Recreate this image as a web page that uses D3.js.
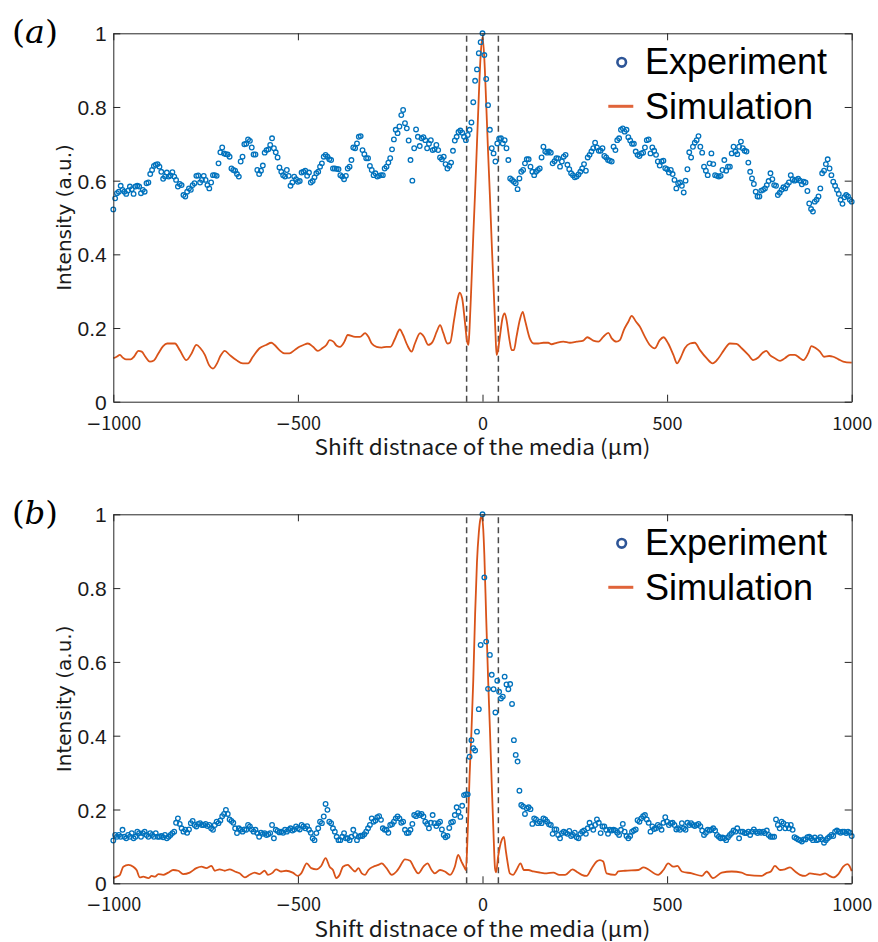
<!DOCTYPE html>
<html>
<head>
<meta charset="utf-8">
<script src="https://cdn.jsdelivr.net/npm/d3@7"></script>
<style>
  html, body { margin: 0; padding: 0; background: #ffffff; }
  svg { display: block; }
</style>
</head>
<body>
<svg id="chart" width="878" height="942"></svg>
<script>
// ---------------- DATA ----------------
const xStep = 5;           // µm between experimental samples, starting at -1000
const xStart = -1000;

// Panel (a) experiment (normalised intensity)
const expA = [
0.522,0.552,0.566,0.570,0.586,0.575,0.570,0.564,0.573,0.584,
0.577,0.564,0.584,0.586,0.584,0.566,0.575,0.570,0.593,0.595,
0.618,0.629,0.640,0.643,0.645,0.638,0.624,0.605,0.611,0.622,
0.611,0.614,0.623,0.611,0.602,0.584,0.591,0.588,0.561,0.557,
0.570,0.579,0.575,0.588,0.593,0.613,0.614,0.595,0.602,0.613,
0.602,0.588,0.579,0.595,0.615,0.615,0.613,0.647,0.677,0.690,
0.674,0.672,0.671,0.665,0.633,0.629,0.627,0.618,0.611,0.652,
0.665,0.699,0.700,0.712,0.708,0.690,0.671,0.671,0.629,0.618,
0.627,0.641,0.676,0.683,0.685,0.697,0.715,0.688,0.677,0.663,
0.636,0.624,0.615,0.611,0.629,0.613,0.586,0.595,0.611,0.604,
0.597,0.599,0.622,0.624,0.627,0.613,0.622,0.595,0.599,0.609,
0.620,0.624,0.638,0.647,0.665,0.670,0.665,0.658,0.656,0.633,
0.633,0.632,0.631,0.615,0.611,0.604,0.613,0.633,0.638,0.656,
0.690,0.688,0.701,0.719,
0.721,0.683,0.672,0.661,0.661,0.640,0.629,0.615,0.620,0.611,
0.613,0.615,0.615,0.633,0.638,0.649,0.661,0.685,0.712,0.738,
0.729,0.747,0.778,0.792,0.756,0.742,0.709,0.656,0.600,0.688,
0.739,0.719,0.694,0.715,0.718,0.710,0.688,0.700,0.710,0.683,
0.685,0.697,0.683,0.663,0.658,0.665,0.645,0.633,0.640,0.649,
0.681,0.709,0.719,0.732,0.736,0.730,0.719,0.710,0.724,0.738,
0.758,0.813,0.871,0.902,0.946,0.976,1.000,
0.941,0.876,0.805,0.738,0.688,0.674,0.652,0.701,0.714,0.715,
0.701,0.710,0.688,0.656,0.606,0.602,0.597,0.593,0.577,0.606,
0.624,0.629,0.647,0.658,0.658,0.638,0.624,0.615,0.624,0.629,
0.633,0.663,0.692,0.679,0.676,0.679,0.676,0.647,0.653,0.661,
0.660,0.638,0.652,0.665,0.670,0.643,0.631,0.620,0.615,0.609,
0.611,0.617,0.624,0.633,0.645,0.627,0.663,0.670,0.679,0.688,
0.703,0.690,0.681,0.681,0.688,0.667,0.663,0.656,
0.654,0.652,0.692,0.683,0.710,0.715,0.738,0.742,0.733,0.738,
0.718,0.709,0.700,0.700,0.679,0.670,0.667,0.674,0.676,0.690,
0.710,0.712,0.674,0.690,0.681,0.670,0.652,0.641,0.652,0.654,
0.634,0.631,0.622,0.629,0.618,0.602,0.579,0.593,0.595,0.586,
0.568,0.600,0.631,0.677,0.663,0.692,0.703,0.710,0.721,0.692,
0.676,0.638,0.627,0.615,0.647,0.674,0.645,0.615,0.613,0.611,
0.613,0.629,0.656,0.627,0.638,0.638,0.674,0.692,0.679,0.672,
0.692,0.706,0.688,0.681,0.679,0.649,0.624,0.606,0.591,0.570,
0.557,0.557,0.573,0.575,0.579,0.588,0.599,0.620,0.604,0.588,
0.586,0.561,0.567,0.575,0.582,0.579,0.588,0.595,0.615,0.604,
0.600,0.602,0.605,0.600,0.590,0.597,0.595,0.572,0.538,0.523,
0.516,0.543,0.548,0.557,0.579,0.620,0.627,0.645,0.658,0.633,
0.615,0.597,0.586,0.575,0.564,0.548,0.537,0.555,0.561,0.557,
0.548,0.543
];

// Panel (b) experiment
const expB = [
0.116,0.131,0.126,0.131,0.126,0.145,0.126,0.122,0.131,0.126,
0.136,0.122,0.126,0.140,0.136,0.126,0.136,0.140,0.131,0.126,
0.136,0.131,0.126,0.136,0.126,0.126,0.128,0.125,0.131,0.122,
0.126,0.131,0.136,0.140,0.164,0.176,0.161,0.149,0.140,0.145,
0.137,0.146,0.163,0.169,0.158,0.154,0.161,0.163,0.158,0.158,
0.161,0.155,0.158,0.149,0.145,0.158,0.167,0.163,0.170,0.182,
0.188,0.199,0.188,0.173,0.169,0.164,0.149,0.136,0.149,0.145,
0.140,0.146,0.145,0.158,0.154,0.146,0.140,0.145,0.136,0.126,
0.137,0.134,0.136,0.131,0.133,0.136,0.158,0.122,0.145,0.142,
0.138,0.140,0.137,0.145,0.140,0.145,0.149,0.143,0.146,0.154,
0.149,0.146,0.158,0.154,0.149,0.155,0.145,0.137,0.122,0.117,
0.136,0.149,0.167,0.163,0.181,0.215,0.199,0.167,0.163,0.149,
0.140,0.126,0.117,0.117,0.126,0.136,0.122,0.122,0.117,0.126,
0.145,0.131,0.117,0.126,
0.129,0.128,0.133,0.140,0.149,0.158,0.176,0.167,0.170,0.179,
0.182,0.172,0.149,0.145,0.145,0.137,0.158,0.160,0.167,0.176,
0.181,0.176,0.164,0.167,0.145,0.136,0.137,0.145,0.161,0.185,
0.182,0.190,0.185,0.188,0.181,0.167,0.161,0.149,0.164,0.185,
0.163,0.155,0.163,0.167,0.146,0.131,0.125,
0.128,0.150,0.165,0.167,0.185,0.206,0.194,0.180,0.210,0.239,
0.241,0.241,0.343,0.388,0.366,0.360,0.411,0.472,0.646,
1.000,
0.829,0.655,0.527,0.619,0.565,0.526,0.463,0.549,0.519,0.501,
0.506,0.560,0.539,0.526,0.540,0.486,0.388,0.348,0.330,0.251,
0.212,0.208,0.188,0.203,0.206,0.201,0.161,0.176,0.173,0.163,
0.167,0.163,0.176,0.173,0.167,0.160,0.158,0.134,0.146,0.146,
0.131,
0.122,0.136,0.140,0.137,0.134,0.142,0.128,0.131,0.137,0.125,
0.122,0.134,0.140,0.143,0.134,0.149,0.164,0.154,0.145,0.158,
0.173,0.164,0.136,0.154,0.154,0.145,0.134,0.145,0.143,0.145,
0.143,0.137,0.131,0.145,0.161,0.140,0.128,0.122,0.128,0.140,
0.143,0.146,0.171,0.167,0.176,0.182,0.185,0.173,0.164,0.140,
0.154,0.147,0.149,0.158,0.154,0.145,0.164,0.179,0.167,0.158,
0.163,0.164,0.158,0.146,0.149,0.145,0.163,0.149,0.145,0.164,
0.158,0.163,0.158,0.155,0.158,0.161,0.155,0.143,0.131,0.137,
0.145,0.143,0.145,0.149,0.143,0.131,0.126,0.122,0.124,0.122,
0.117,0.125,0.131,0.136,0.143,0.140,0.149,0.122,0.140,0.140,
0.136,0.136,0.140,0.131,0.140,0.146,0.140,0.136,0.140,0.137,
0.140,0.136,0.143,0.131,0.126,0.126,0.126,0.173,0.158,0.149,
0.167,0.163,0.149,0.158,0.149,0.158,0.145,0.125,0.122,0.119,
0.117,0.113,0.119,0.119,0.125,0.126,0.122,0.117,0.124,0.117,
0.119,0.125,0.119,0.110,0.117,0.122,0.126,0.131,0.128,0.140,
0.143,0.140,0.137,0.140,0.140,0.136,0.140,0.137,0.128
];

// Panel (a) simulation: positions (µm) and intensity
const simAx = [-1000,-991,-982,-975,-966,-953,-944,-932,-923,-913,-901,-890,-878,-865,-854,-842,-833,-820,-802,-788,
-775,-764,-752,-741,-730,-719,-710,-698,-685,-667,-649,-635,-622,-604,-586,-572,-563,-550,-536,-523,
-509,-496,-485,-473,-459,-446,-434,-423,-414,-404,-395,-386,-374,-365,-345,-332,-318,-309,-300,-287,
-273,-260,-249,-237,-224,-215,-204,-192,-183,-169,-159,-147,-135,-124,-115,-106,-95,-88,-77,-68,
-62,-55,-48,-42,-38,-35,-30,-25,-20,-15,-10,-5,0,5,10,15,20,25,30,35,
38,42,47,54,60,65,73,79,85,92,101,109,115,128,139,151,165,178,187,201,
219,237,255,273,284,300,314,327,341,350,363,372,383,395,404,416,426,440,453,467,
480,490,503,517,527,536,548,562,575,589,607,623,639,654,670,688,702,720,733,747,
759,769,778,792,806,819,833,846,860,869,882,891,903,914,925,939,950,964,977,1000];
const simAy = [0.118,0.122,0.127,0.120,0.115,0.115,0.122,0.138,0.136,0.122,0.109,0.112,0.131,0.151,0.158,0.158,0.158,0.140,0.113,0.131,
0.154,0.145,0.127,0.100,0.090,0.104,0.124,0.138,0.127,0.113,0.104,0.104,0.122,0.145,0.154,0.160,0.154,0.140,0.131,0.131,
0.140,0.149,0.154,0.158,0.149,0.138,0.145,0.154,0.167,0.163,0.152,0.149,0.163,0.181,0.176,0.176,0.186,0.176,0.158,0.149,
0.147,0.149,0.149,0.171,0.196,0.181,0.154,0.136,0.158,0.186,0.177,0.154,0.163,0.190,0.208,0.186,0.158,0.160,0.222,0.276,
0.296,0.280,0.220,0.165,0.154,0.200,0.320,0.450,0.570,0.700,0.830,0.940,0.990,0.930,0.810,0.680,0.560,0.430,0.310,0.190,
0.127,0.140,0.176,0.226,0.240,0.222,0.168,0.140,0.140,0.176,0.222,0.244,0.222,0.172,0.158,0.158,0.160,0.160,0.156,0.160,
0.163,0.160,0.163,0.166,0.175,0.166,0.163,0.176,0.187,0.172,0.163,0.167,0.195,0.217,0.233,0.217,0.204,0.176,0.154,0.145,
0.167,0.175,0.158,0.127,0.104,0.118,0.145,0.158,0.160,0.140,0.118,0.104,0.118,0.140,0.158,0.157,0.145,0.127,0.113,0.120,
0.133,0.138,0.127,0.118,0.111,0.118,0.127,0.127,0.118,0.113,0.131,0.151,0.145,0.136,0.122,0.124,0.122,0.115,0.109,0.106];

// Panel (b) simulation
const simBx = [-1000,-991,-982,-973,-959,-946,-937,-928,-919,-905,-896,-887,-878,-865,-851,-838,-824,-811,-793,-775,
-761,-748,-734,-725,-712,-698,-685,-671,-658,-644,-631,-617,-604,-590,-581,-568,-559,-545,-532,-514,
-500,-491,-476,-464,-450,-437,-425,-414,-405,-396,-387,-378,-365,-359,-345,-336,-327,-318,-309,-296,
-282,-273,-260,-246,-233,-224,-210,-196,-187,-174,-160,-149,-138,-129,-115,-102,-88,-75,-66,-57,
-50,-45,-40,-35,-30,-25,-20,-15,-10,-5,-2,2,5,10,15,20,25,30,34,37,
42,47,53,58,63,67,74,83,92,103,112,124,138,156,174,192,208,224,244,257,
269,282,296,309,318,327,336,359,368,386,422,436,476,490,503,517,528,540,567,594,
607,624,648,675,702,716,756,768,781,792,806,819,833,847,860,874,887,901,914,928,
940,950,964,977,988,994,1000];
const simBy = [0.014,0.018,0.023,0.045,0.050,0.045,0.036,0.016,0.018,0.014,0.020,0.018,0.025,0.023,0.029,0.036,0.034,0.025,0.029,0.041,
0.045,0.041,0.047,0.034,0.038,0.034,0.038,0.032,0.027,0.016,0.023,0.029,0.025,0.034,0.023,0.029,0.038,0.032,0.034,0.029,
0.020,0.027,0.054,0.041,0.038,0.047,0.068,0.045,0.036,0.014,0.023,0.045,0.050,0.045,0.032,0.041,0.027,0.023,0.036,0.045,
0.050,0.054,0.041,0.023,0.032,0.045,0.065,0.061,0.045,0.027,0.045,0.054,0.036,0.027,0.036,0.032,0.023,0.045,0.077,0.059,
0.045,0.036,0.140,0.290,0.410,0.550,0.730,0.870,0.950,0.990,0.995,0.960,0.890,0.720,0.560,0.420,0.270,0.130,0.040,0.030,
0.070,0.099,0.120,0.126,0.090,0.063,0.027,0.023,0.036,0.054,0.036,0.036,0.032,0.029,0.027,0.029,0.023,0.023,0.038,0.030,
0.023,0.020,0.041,0.059,0.063,0.059,0.027,0.023,0.032,0.034,0.036,0.043,0.023,0.036,0.054,0.045,0.047,0.032,0.027,0.020,
0.032,0.014,0.029,0.032,0.029,0.023,0.020,0.027,0.032,0.047,0.036,0.038,0.043,0.032,0.023,0.020,0.027,0.025,0.023,0.027,
0.020,0.016,0.025,0.045,0.052,0.047,0.033];

const xTicks = [-1000, -500, 0, 500, 1000];
const xTickLabels = ["\u22121000", "\u2212500", "0", "500", "1000"];
const yTicks = [0, 0.2, 0.4, 0.6, 0.8, 1];
const yTickLabels = ["0", "0.2", "0.4", "0.6", "0.8", "1"];
const dashX = [-43, 43];
const panelLetters = ["a", "b"];
const legendLabels = ["Experiment", "Simulation"];
const xLabel = "Shift distnace of the media (\u03BCm)";
const yLabel = "Intensity (a.u.)";

// ---------------- DRAW ----------------
const svg = d3.select("#chart");
const plotL = 113.3, plotR = 851.7;
const panels = [
  { top: 33.3, bottom: 401.7, exp: expA, sx: simAx, sy: simAy, letter: panelLetters[0] },
  { top: 514.3, bottom: 883.3, exp: expB, sx: simBx, sy: simBy, letter: panelLetters[1] }
];
const blue = "#0072BD", orange = "#D95319", axisCol = "#262626";
const tickFont = "'Noto Sans CJK JP', 'Noto Sans', sans-serif";

panels.forEach(p => {
  const g = svg.append("g");
  const x = d3.scaleLinear().domain([-1000, 1000]).range([plotL, plotR]);
  const y = d3.scaleLinear().domain([0, 1]).range([p.bottom, p.top]);

  // dashed guide lines
  g.selectAll("line.dash").data(dashX).enter().append("line")
    .attr("x1", d => x(d)).attr("x2", d => x(d))
    .attr("y1", y(0)).attr("y2", y(1))
    .attr("stroke", "#4a4a4a").attr("stroke-width", 1.5)
    .attr("stroke-dasharray", "6,4");

  // simulation line
  const simData = p.sx.map((v, i) => [v, p.sy[i]]);
  g.append("path").datum(simData)
    .attr("fill", "none").attr("stroke", orange).attr("stroke-width", 1.8)
    .attr("stroke-linejoin", "round")
    .attr("d", d3.line().x(d => x(d[0])).y(d => y(d[1])).curve(d3.curveMonotoneX));

  // experimental points
  const expData = p.exp.map((v, i) => [xStart + i * xStep, v]);
  g.selectAll("circle.exp").data(expData).enter().append("circle")
    .attr("cx", d => x(d[0])).attr("cy", d => y(d[1])).attr("r", 2.3)
    .attr("fill", "none").attr("stroke", blue).attr("stroke-width", 1.3);

  // axes (box with inward ticks)
  const axB = g.append("g").attr("transform", `translate(0,${p.bottom})`)
    .call(d3.axisBottom(x).tickValues(xTicks).tickSizeInner(-7).tickSizeOuter(0).tickFormat((d, i) => xTickLabels[i]));
  const axT = g.append("g").attr("transform", `translate(0,${p.top})`)
    .call(d3.axisTop(x).tickValues(xTicks).tickSizeInner(-7).tickSizeOuter(0).tickFormat(""));
  const axL = g.append("g").attr("transform", `translate(${plotL},0)`)
    .call(d3.axisLeft(y).tickValues(yTicks).tickSizeInner(-7).tickSizeOuter(0).tickFormat((d, i) => yTickLabels[i]));
  const axR = g.append("g").attr("transform", `translate(${plotR},0)`)
    .call(d3.axisRight(y).tickValues(yTicks).tickSizeInner(-7).tickSizeOuter(0).tickFormat(""));
  [axB, axT, axL, axR].forEach(a => {
    a.select(".domain").attr("stroke", axisCol).attr("stroke-width", 1);
    a.selectAll(".tick line").attr("stroke", axisCol).attr("stroke-width", 1);
  });
  // x tick labels: wide (full-width style) minus sign as in the reference
  axB.selectAll(".tick text").each(function(d, i) {
    const t = d3.select(this);
    const s = xTickLabels[i];
    t.text(null).attr("y", 28).attr("dy", null).attr("fill", "#1a1a1a")
      .style("font-family", tickFont).style("font-size", "18px");
    if (s.startsWith("\u2212")) {
      t.append("tspan").style("font-family", "'DejaVu Sans', sans-serif").text("\u2212");
      t.append("tspan").text(s.slice(1));
    } else {
      t.text(s);
    }
  });
  axL.selectAll(".tick text")
    .attr("x", -6.5).attr("dy", "0.36em")
    .attr("fill", "#1a1a1a")
    .style("font-family", "'Liberation Sans', Arial, sans-serif")
    .style("font-size", "21px");

  // axis labels
  g.append("text")
    .attr("x", (plotL + plotR) / 2).attr("y", p.bottom + 53.5)
    .attr("text-anchor", "middle")
    .attr("textLength", 336).attr("lengthAdjust", "spacingAndGlyphs")
    .attr("fill", "#1a1a1a")
    .style("font-family", tickFont)
    .style("font-size", "21px")
    .text(xLabel);
  g.append("text")
    .attr("transform", `translate(71,${(p.top + p.bottom) / 2}) rotate(-90)`)
    .attr("text-anchor", "middle")
    .attr("fill", "#1a1a1a")
    .style("font-family", "'DejaVu Sans', sans-serif")
    .style("font-size", "20px")
    .text(yLabel);

  // panel letter
  const lt = g.append("text")
    .attr("x", 12).attr("y", p.top + 9.5)
    .attr("textLength", 46).attr("lengthAdjust", "spacingAndGlyphs")
    .attr("fill", "#000")
    .style("font-family", "'DejaVu Serif', serif")
    .style("font-size", "31px");
  lt.append("tspan").text("(");
  lt.append("tspan").style("font-style", "italic").text(p.letter);
  lt.append("tspan").text(")");

  // legend
  const lg = g.append("g");
  lg.append("circle").attr("cx", 621.7).attr("cy", p.top + 29).attr("r", 4.3)
    .attr("fill", "none").attr("stroke", "#2e5597").attr("stroke-width", 2.6);
  lg.append("line").attr("x1", 608.3).attr("x2", 633.3)
    .attr("y1", p.top + 73).attr("y2", p.top + 73)
    .attr("stroke", "#E0643A").attr("stroke-width", 3);
  lg.selectAll("text").data(legendLabels).enter().append("text")
    .attr("x", 645).attr("y", (d, i) => p.top + (i === 0 ? 41 : 85.5))
    .attr("fill", "#000")
    .style("font-family", "'Liberation Sans', Arial, sans-serif")
    .style("font-size", "36px")
    .text(d => d);
});
</script>
</body>
</html>
